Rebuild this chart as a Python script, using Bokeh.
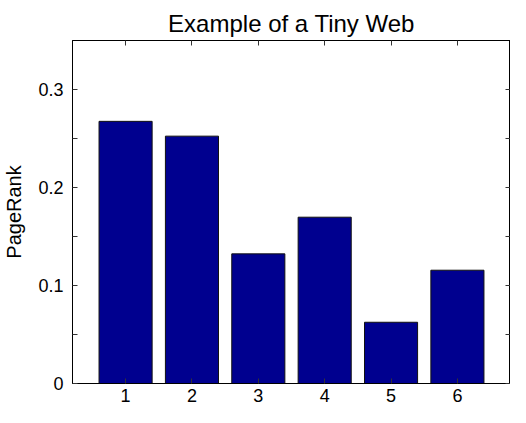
from bokeh.plotting import figure
from bokeh.models import FixedTicker, LinearAxis, Range1d
from bokeh.embed import file_html
from bokeh.resources import INLINE

# data
pages = [1, 2, 3, 4, 5, 6]
pagerank = [0.2675, 0.2524, 0.1323, 0.1697, 0.0625, 0.1156]
y_major = [0, 0.1, 0.2, 0.3]
y_major_labels = ["0", "0.1", "0.2", "0.3"]
y_minor = [0.05, 0.15, 0.25]
title_text = "Example of a Tiny Web"
y_label = "PageRank"

FONT = "Liberation Sans"

p = figure(width=510, height=407, output_backend="svg", toolbar_location=None,
           x_range=Range1d(0.2, 6.8), y_range=Range1d(0, 0.35),
           min_border_left=65, min_border_right=0, min_border_top=40, min_border_bottom=24,
           x_axis_type=None, y_axis_type=None)

p.vbar(x=pages, top=pagerank, width=0.8, fill_color="#00008F", line_color="#111111", line_width=1)

p.xgrid.visible = False
p.ygrid.visible = False
p.outline_line_color = "black"
p.outline_line_width = 1
p.background_fill_color = "white"
p.border_fill_color = "white"

p.title.text = title_text
p.title.text_font = FONT
p.title.text_font_size = "24px"
p.title.text_font_style = "normal"
p.title.align = "center"
p.title.text_color = "black"
p.title.standoff = 8


def style_axis(ax, show_labels):
    ax.axis_line_color = "black"
    ax.axis_line_width = 1
    ax.major_tick_in = 5
    ax.major_tick_out = 0
    ax.minor_tick_in = 5
    ax.minor_tick_out = 0
    ax.major_tick_line_color = "#333333"
    ax.minor_tick_line_color = "#333333"
    ax.major_label_text_font = FONT
    ax.major_label_text_font_size = "18px"
    ax.major_label_text_color = "black" if show_labels else None
    ax.axis_label_text_font = FONT
    ax.axis_label_text_font_style = "normal"
    ax.axis_label_text_color = "black"


xt = FixedTicker(ticks=pages)
yt = FixedTicker(ticks=y_major, minor_ticks=y_minor)

bottom = LinearAxis(ticker=xt)
style_axis(bottom, True)
bottom.major_label_standoff = 5
p.add_layout(bottom, "below")

top = LinearAxis(ticker=xt)
style_axis(top, False)
top.major_label_overrides = {v: "" for v in pages}
top.major_label_text_font_size = "0px"
top.major_label_standoff = 0
p.add_layout(top, "above")

left = LinearAxis(ticker=yt, axis_label=y_label)
style_axis(left, True)
left.major_label_overrides = {v: s for v, s in zip(y_major, y_major_labels)}
left.major_label_standoff = 9
left.axis_label_text_font_size = "20px"
left.axis_label_standoff = 10
p.add_layout(left, "left")

right = LinearAxis(ticker=yt)
style_axis(right, False)
right.major_label_overrides = {v: "" for v in y_major}
right.major_label_text_font_size = "0px"
right.major_label_standoff = 0
p.add_layout(right, "right")

open("out.html", "w").write(file_html(p, INLINE))
